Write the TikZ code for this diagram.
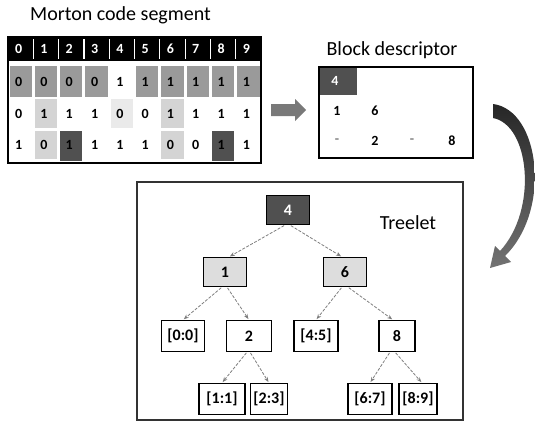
\documentclass[tikz,border=0pt]{standalone}
\usepackage{fontspec}
\setmainfont{Carlito}
\usetikzlibrary{arrows.meta,calc}

\definecolor{cellmid}{HTML}{9A9A9A}
\definecolor{celllight}{HTML}{D4D4D4}
\definecolor{cellpale}{HTML}{EAEAEA}
\definecolor{celldark}{HTML}{505050}
\definecolor{edgegray}{HTML}{7E7E7E}

\tikzset{
  titletext/.style={font=\fontsize{20}{22}\selectfont, inner sep=0pt},
  digit/.style={font=\fontsize{14}{14}\selectfont\bfseries, inner sep=0pt},
  headdigit/.style={digit, text=white},
  treebox/.style={draw=black, line width=1.2pt, fill=white,
    font=\fontsize{16}{16}\selectfont\bfseries,
    minimum height=29pt, minimum width=36pt, inner xsep=3pt},
  rootbox/.style={treebox, fill=celldark, text=white, minimum width=43pt},
  midbox/.style={treebox, fill=celllight!80!white, minimum width=43pt},
  leafbox/.style={treebox, minimum height=31pt},
  treeedge/.style={draw=edgegray, line width=0.8pt, dash pattern=on 3pt off 1.5pt,
    -{Stealth[length=5pt,width=4pt,open]}, shorten >=1pt, shorten <=1pt},
}

\begin{document}
\begin{tikzpicture}[x=1pt,y=-1pt]
\path[use as bounding box] (0,0) rectangle (535,423);

% ---------- Morton code segment ----------
\node[titletext, anchor=west] (mtitle) at (30,15) {Morton code segment};

% header row
\fill[black] (8,37) rectangle (261,61);
\foreach \i in {1,...,9}{
  \draw[white, line width=1.2pt] ({8+25.3*\i},39) -- ({8+25.3*\i},59);
}
\foreach \i in {0,...,9}{
  \node[headdigit] (h\i) at ({8+25.3*(\i+0.5)-2},49) {\i};
}

% shaded cells
\foreach \i in {0,1,2,3,5,6,7,8,9}{
  \fill[cellmid] ({8+25.3*\i+1.5},66) rectangle ({8+25.3*(\i+1)-1.5},97);
}
\foreach \i in {1,6}{
  \fill[celllight] ({8+25.3*\i+1.5},99) rectangle ({8+25.3*(\i+1)-1.5},128);
  \fill[celllight] ({8+25.3*\i+1.5},131) rectangle ({8+25.3*(\i+1)-1.5},159);
}
\fill[cellpale] ({8+25.3*4+1.5},99) rectangle ({8+25.3*5-1.5},128);
\foreach \i in {2,8}{
  \fill[celldark] ({8+25.3*\i+1.5},131) rectangle ({8+25.3*(\i+1)-1.5},161);
}

% bit rows
\foreach \b [count=\k from 0] in {0,0,0,0,1,1,1,1,1,1}{
  \node[digit] (ra\k) at ({8+25.3*(\k+0.5)-2},82) {\b};
}
\foreach \b [count=\k from 0] in {0,1,1,1,0,0,1,1,1,1}{
  \node[digit] (rb\k) at ({8+25.3*(\k+0.5)-2},114) {\b};
}
\foreach \b [count=\k from 0] in {1,0,1,1,1,1,0,0,1,1}{
  \node[digit] (rc\k) at ({8+25.3*(\k+0.5)-2},145) {\b};
}

% outer frame
\draw[black, line width=2pt] (8,37) rectangle (261,163);

% ---------- block arrow ----------
\fill[gray!60!black!75] (271,104) -- (295,104) -- (295,99) -- (306,110)
  -- (295,121) -- (295,116) -- (271,116) -- cycle;

% ---------- Block descriptor ----------
\node[titletext] (btitle) at (392,50) {Block descriptor};
\fill[celldark] (319,67) rectangle (357,95);
\draw[black, line width=2pt] (319,67) rectangle (473,158);
\node[digit, text=white] (b4) at (335,81) {4};
\node[digit] (b1) at (337,111) {1};
\node[digit] (b6) at (375,111) {6};
\node[digit, text=gray] (bd1) at (337,141) {-};
\node[digit] (b2) at (375,141) {2};
\node[digit, text=gray] (bd2) at (412,141) {-};
\node[digit] (b8) at (452,141) {8};

% ---------- curved arrow ----------
\shade[top color=black!85, bottom color=black!55]
  (493,104) .. controls (540,110) and (552,210) .. (505,256)
  -- (511,262) -- (490,268) -- (495,246) -- (500,251)
  .. controls (538,210) and (530,125) .. (493,118) -- cycle;

% ---------- Treelet ----------
\draw[black!80, line width=1.2pt] (137,182) rectangle (463,420);
\node[titletext] (ttitle) at (408,223) {Treelet};

\node[rootbox] (n4) at (288,210) {4};
\node[midbox] (n1) at (225,272) {1};
\node[midbox] (n6) at (345,272) {6};
\node[leafbox, minimum width=43pt] (l00) at (183,336) {[0:0]};
\node[leafbox, minimum width=45pt] (n2) at (249,336) {2};
\node[leafbox, minimum width=44pt] (l45) at (316,336) {[4:5]};
\node[leafbox, minimum width=36pt] (n8) at (397,336) {8};
\node[leafbox, minimum width=46pt] (l11) at (222,399) {[1:1]};
\node[leafbox] (l23) at (269,399) {[2:3]};
\node[leafbox, minimum width=44pt] (l67) at (370,399) {[6:7]};
\node[leafbox, minimum width=38pt] (l89) at (418,399) {[8:9]};

\draw[treeedge] ($(n4.south)+(-3,0)$) -- ($(n1.north)+(4,0)$);
\draw[treeedge] ($(n4.south)+(2,0)$) -- ($(n6.north)+(-3,0)$);
\draw[treeedge] ($(n1.south)+(-3,0)$) -- (l00.north);
\draw[treeedge] ($(n1.south)+(2,0)$) -- (n2.north);
\draw[treeedge] ($(n6.south)+(-3,0)$) -- (l45.north);
\draw[treeedge] ($(n6.south)+(3,0)$) -- ($(n8.north)+(-4,0)$);
\draw[treeedge] ($(n2.south)+(-2,0)$) -- (l11.north);
\draw[treeedge] ($(n2.south)+(1,0)$) -- (l23.north);
\draw[treeedge] ($(n8.south)+(-7,0)$) -- (l67.north);
\draw[treeedge] ($(n8.south)+(-2,0)$) -- ($(l89.north)+(4,0)$);
\end{tikzpicture}
\end{document}
